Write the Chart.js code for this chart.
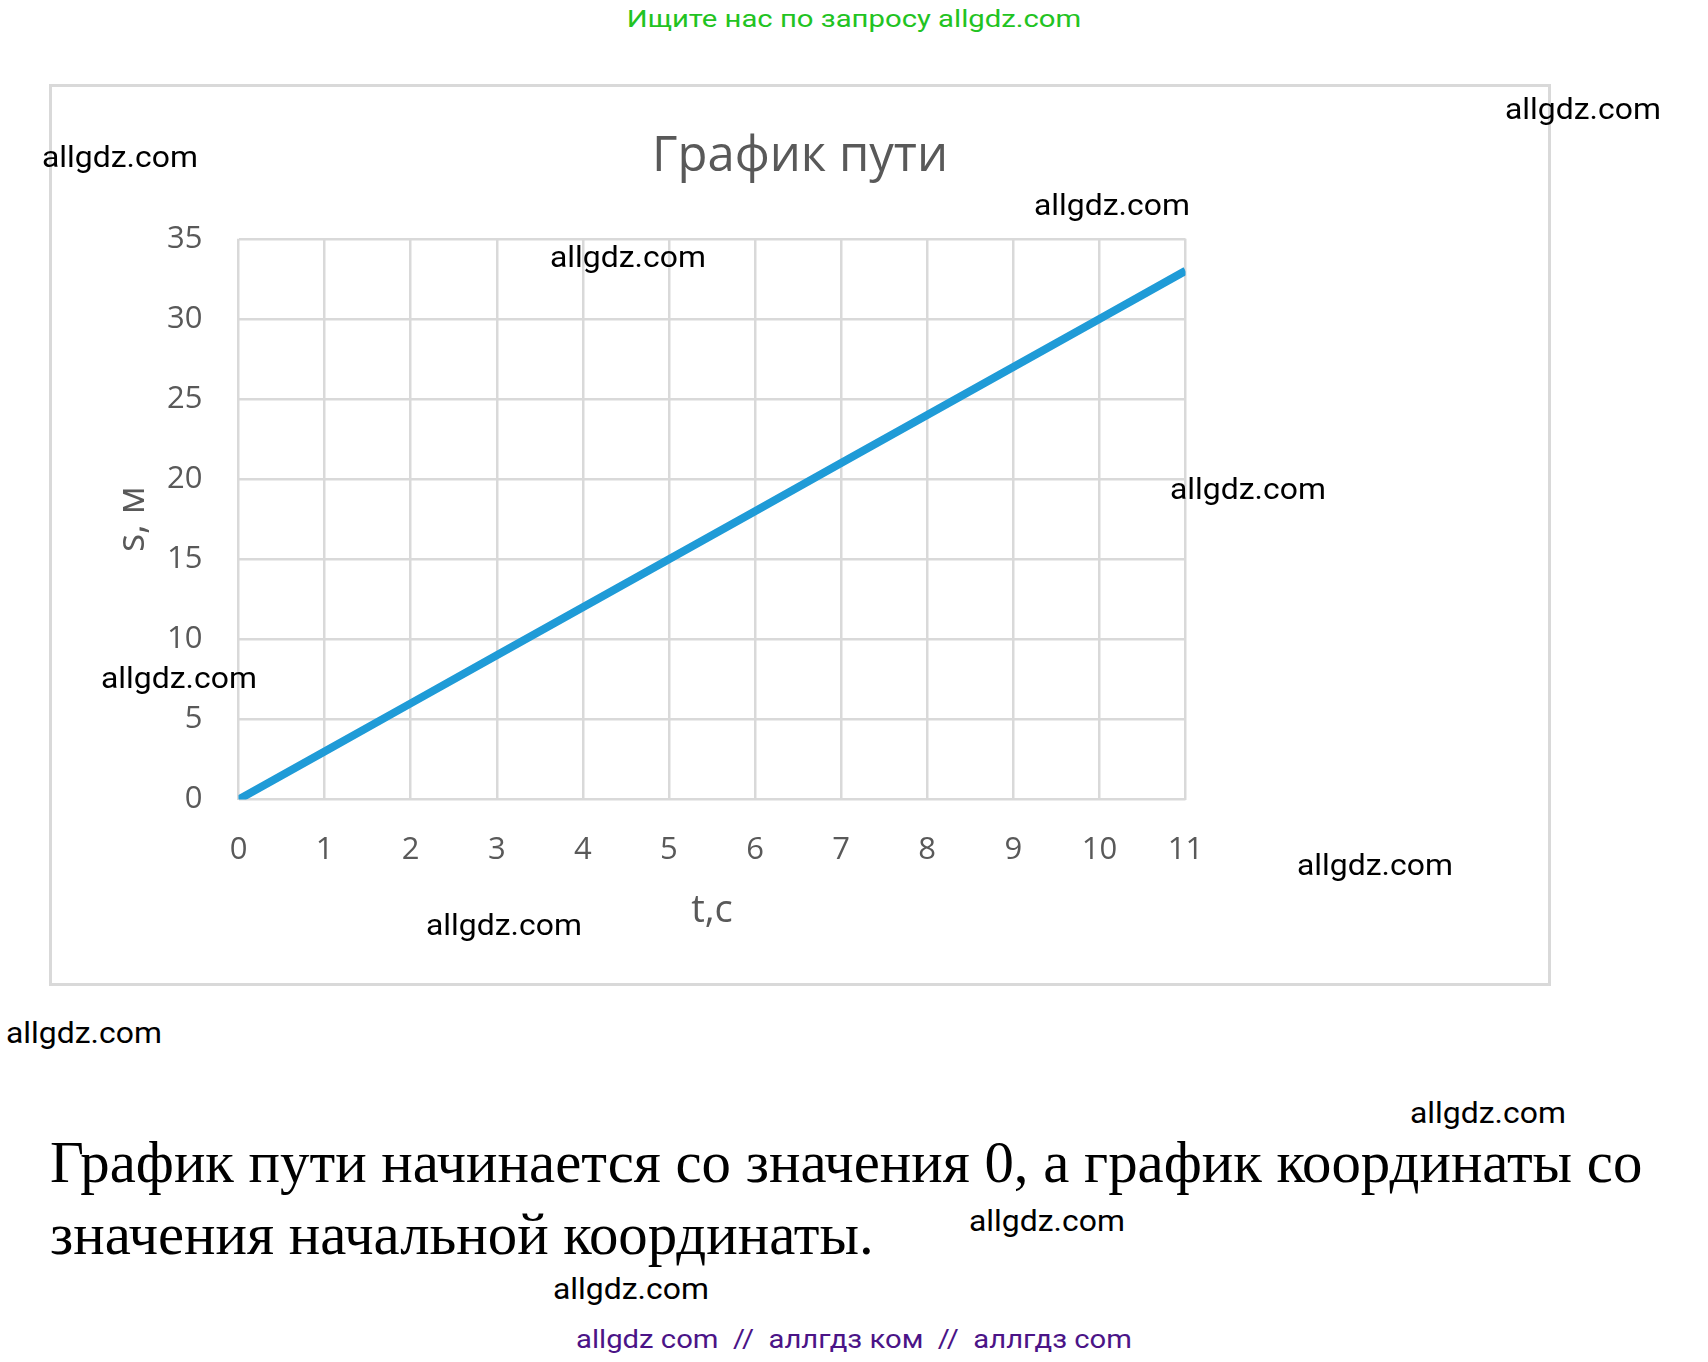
<!DOCTYPE html>
<html lang="ru">
<head>
<meta charset="utf-8">
<title>График пути</title>
<script src="https://cdn.jsdelivr.net/npm/chart.js@4.4.1/dist/chart.umd.min.js"></script>
<style>
  html, body { margin: 0; padding: 0; background: #fff; }
  body { width: 1708px; height: 1362px; position: relative; overflow: hidden; }
  .abs { position: absolute; white-space: nowrap; }
  .wm { font-family: Roboto, sans-serif; font-size: 29px; line-height: 29px; color: #000;
        transform: scaleX(1.1); transform-origin: left center; }
  .center { left: 0; width: 1708px; text-align: center; }
  #frame { left: 49px; top: 84px; width: 1502px; height: 902px; box-sizing: border-box; border: 3px solid #d9d9d9; }
  #chartBox { left: 50px; top: 85px; width: 1500px; height: 900px; }
  #promo { top: 7px; font-family: Roboto, sans-serif; font-size: 24px; line-height: 24px; color: #22c322;
           transform: scaleX(1.22); }
  #note { left: 50px; top: 1127px; font-family: "Liberation Serif", "Times New Roman", serif; font-size: 58.8px; line-height: 72px; color: #000; }
  #footer { top: 1327px; font-family: Roboto, sans-serif; font-size: 25px; line-height: 25px; color: #4b1487; white-space: pre;
            transform: scaleX(1.17); }
</style>
</head>
<body>
<div class="abs center" id="promo">Ищите нас по запросу allgdz.com</div>
<div class="abs" id="frame"></div>
<div class="abs" id="chartBox"><canvas id="chart"></canvas></div>

<div class="abs wm" style="left:1505px; top:95px;">allgdz.com</div>
<div class="abs wm" style="left:42px; top:143px;">allgdz.com</div>
<div class="abs wm" style="left:1034px; top:191px;">allgdz.com</div>
<div class="abs wm" style="left:550px; top:243px;">allgdz.com</div>
<div class="abs wm" style="left:1170px; top:475px;">allgdz.com</div>
<div class="abs wm" style="left:101px; top:664px;">allgdz.com</div>
<div class="abs wm" style="left:1297px; top:851px;">allgdz.com</div>
<div class="abs wm" style="left:426px; top:911px;">allgdz.com</div>
<div class="abs wm" style="left:6px; top:1019px;">allgdz.com</div>
<div class="abs wm" style="left:1410px; top:1099px;">allgdz.com</div>
<div class="abs wm" style="left:969px; top:1207px;">allgdz.com</div>
<div class="abs wm" style="left:553px; top:1275px;">allgdz.com</div>

<div class="abs" id="note">График пути начинается со значения 0, а график координаты со<br>значения начальной координаты.</div>
<div class="abs center" id="footer">allgdz com  //  аллгдз ком  //  аллгдз com</div>

<script>
// time, s and distance, m
const times = [0, 1, 2, 3, 4, 5, 6, 7, 8, 9, 10, 11];
const distances = [0, 3, 6, 9, 12, 15, 18, 21, 24, 27, 30, 33];

const chartTitle = 'График пути';
const xTitle = 't,c';
const yTitle = 's, м';

const textGray = '#595959';
const gridGray = '#d9d9d9';

const points = times.map((t, i) => ({ x: t, y: distances[i] }));

new Chart(document.getElementById('chart'), {
  type: 'line',
  data: {
    datasets: [{
      data: points,
      borderColor: '#1f9bd7',
      borderWidth: 8,
      pointRadius: 0,
      tension: 0,
      fill: false
    }]
  },
  options: {
    responsive: true,
    maintainAspectRatio: false,
    animation: false,
    layout: { padding: 0 },
    plugins: {
      legend: { display: false },
      tooltip: { enabled: false },
      title: {
        display: true,
        text: chartTitle,
        color: textGray,
        font: { family: 'Open Sans', size: 49, weight: 'normal', lineHeight: 1.2 },
        padding: { top: 43, bottom: 52 }
      }
    },
    scales: {
      x: {
        type: 'linear',
        min: 0,
        max: 11,
        ticks: {
          stepSize: 1,
          color: textGray,
          padding: 32,
          font: { family: 'Open Sans', size: 31 }
        },
        grid: { color: gridGray, lineWidth: 2.5, drawTicks: false },
        border: { display: false },
        title: {
          display: true,
          text: xTitle,
          color: textGray,
          font: { family: 'Open Sans', size: 38, lineHeight: 1.2 },
          padding: { top: 0, bottom: 51 }
        },
        afterFit: (scale) => { scale.height = 185.5; }
      },
      y: {
        min: 0,
        max: 35,
        ticks: {
          stepSize: 5,
          color: textGray,
          padding: 36,
          font: { family: 'Open Sans', size: 31 }
        },
        grid: { color: gridGray, lineWidth: 2.5, drawTicks: false },
        border: { display: false },
        title: {
          display: true,
          text: yTitle,
          color: textGray,
          font: { family: 'Open Sans', size: 38, lineHeight: 1.2 },
          padding: { top: 60, bottom: 0 }
        },
        afterFit: (scale) => { scale.width = 188.5; }
      },
      // empty right-hand space of the chart frame, so the title stays centred on the frame
      spacer: {
        type: 'linear',
        position: 'right',
        display: true,
        grid: { display: false },
        ticks: { display: false },
        border: { display: false },
        afterFit: (scale) => { scale.width = 364.5; }
      }
    }
  }
});
</script>
</body>
</html>
